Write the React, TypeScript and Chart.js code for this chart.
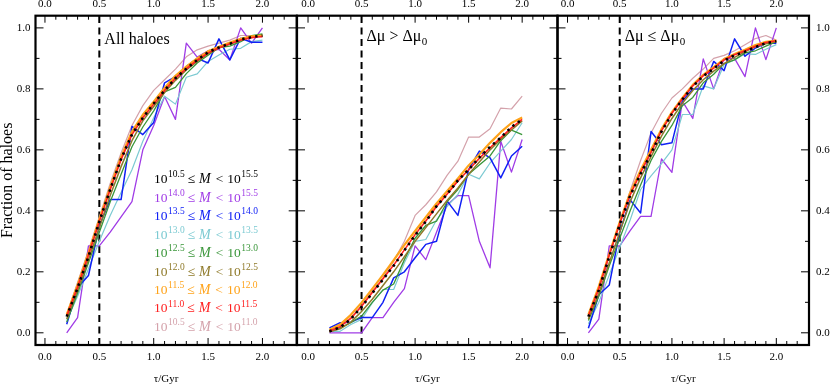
import React, { useEffect, useRef } from "react";
import { Chart, registerables } from "chart.js";

Chart.register(...registerables);

// ---------------- data ----------------
const TAU = [0.2, 0.3, 0.4, 0.5, 0.6, 0.7, 0.8, 0.9, 1.0, 1.1, 1.2, 1.3, 1.4, 1.5, 1.6, 1.7, 1.8, 1.9, 2.0];
const TAU_CUT = 0.5;

const X_MAJOR = [0, 0.5, 1.0, 1.5, 2.0];
const X_MINOR = [0.1, 0.2, 0.3, 0.4, 0.6, 0.7, 0.8, 0.9, 1.1, 1.2, 1.3, 1.4, 1.6, 1.7, 1.8, 1.9, 2.1, 2.2];
const Y_MAJOR = [0, 0.2, 0.4, 0.6, 0.8, 1.0];
const Y_MINOR = [0.1, 0.3, 0.5, 0.7, 0.9];

// mass bins (log10 M): lower and upper exponents, in legend order
const MASS_LO = ["10.5", "14.0", "13.5", "13.0", "12.5", "12.0", "11.5", "11.0", "10.5"];
const MASS_HI = ["15.5", "15.5", "14.0", "13.5", "13.0", "12.5", "12.0", "11.5", "11.0"];
const BIN_COLORS = ["#000000", "#a03ce6", "#1020f5", "#7ccad2", "#3a963a", "#8f7a2a", "#ffa31a", "#ff2020", "#d4a2ab"];

const PANEL_LABELS = ["All haloes", "Δμ > Δμ", "Δμ ≤ Δμ"];

// Panel 1: all haloes
const ALL_BLACK = [0.053, 0.147, 0.25, 0.365, 0.47, 0.57, 0.65, 0.705, 0.752, 0.795, 0.835, 0.866, 0.895, 0.92, 0.936, 0.948, 0.962, 0.97, 0.975];
const ALL_PURPLE = [0.0, 0.05, 0.285, 0.285, 0.33, 0.38, 0.43, 0.6, 0.68, 0.775, 0.7, 0.95, 0.904, 0.925, 0.93, 0.895, 1.0, 0.95, 1.0];
const ALL_BLUE = [0.028, 0.148, 0.188, 0.35, 0.437, 0.437, 0.677, 0.65, 0.69, 0.82, 0.84, 0.873, 0.9, 0.885, 0.964, 0.895, 0.966, 0.953, 0.953];
const ALL_CYAN = [0.04, 0.12, 0.21, 0.3, 0.385, 0.46, 0.535, 0.628, 0.705, 0.776, 0.75, 0.838, 0.849, 0.89, 0.911, 0.93, 0.933, 0.955, 0.96];
const ALL_GREEN = [0.035, 0.13, 0.23, 0.33, 0.43, 0.52, 0.61, 0.675, 0.728, 0.79, 0.805, 0.85, 0.885, 0.91, 0.935, 0.94, 0.955, 0.975, 0.98];
const ALL_OLIVE = [0.045, 0.14, 0.24, 0.345, 0.45, 0.545, 0.63, 0.695, 0.742, 0.788, 0.828, 0.862, 0.89, 0.915, 0.934, 0.946, 0.96, 0.97, 0.975];
const ALL_ORANGE = [0.06, 0.157, 0.262, 0.372, 0.477, 0.577, 0.66, 0.715, 0.758, 0.803, 0.843, 0.873, 0.9, 0.923, 0.938, 0.952, 0.964, 0.972, 0.975];
const ALL_RED = [0.055, 0.15, 0.255, 0.365, 0.47, 0.568, 0.65, 0.705, 0.75, 0.795, 0.835, 0.866, 0.894, 0.918, 0.935, 0.948, 0.96, 0.968, 0.972];
const ALL_PINK = [0.06, 0.165, 0.27, 0.38, 0.49, 0.59, 0.68, 0.745, 0.795, 0.83, 0.865, 0.905, 0.928, 0.94, 0.95, 0.96, 0.975, 0.975, 0.97];

// Panel 2: delta mu > delta mu_0
const GT_BLACK = [0.005, 0.018, 0.045, 0.085, 0.13, 0.175, 0.22, 0.27, 0.32, 0.365, 0.415, 0.455, 0.5, 0.535, 0.575, 0.61, 0.64, 0.675, 0.7];
const GT_PURPLE = [0.0, 0.0, 0.0, 0.0, 0.05, 0.05, 0.1, 0.145, 0.285, 0.24, 0.33, 0.42, 0.45, 0.45, 0.3, 0.213, 0.628, 0.527, 0.634];
const GT_BLUE = [0.016, 0.033, 0.035, 0.05, 0.05, 0.1, 0.18, 0.2, 0.246, 0.29, 0.3, 0.432, 0.385, 0.535, 0.596, 0.574, 0.508, 0.58, 0.612];
const GT_CYAN = [0.005, 0.005, 0.027, 0.044, 0.098, 0.142, 0.142, 0.23, 0.3, 0.306, 0.37, 0.415, 0.454, 0.52, 0.505, 0.557, 0.596, 0.634, 0.689];
const GT_GREEN = [0.003, 0.016, 0.033, 0.055, 0.1, 0.14, 0.16, 0.24, 0.31, 0.352, 0.366, 0.43, 0.47, 0.52, 0.55, 0.58, 0.63, 0.665, 0.65];
const GT_OLIVE = [0.003, 0.013, 0.035, 0.07, 0.11, 0.155, 0.2, 0.25, 0.3, 0.345, 0.39, 0.435, 0.475, 0.52, 0.56, 0.6, 0.635, 0.665, 0.695];
const GT_ORANGE = [0.01, 0.027, 0.059, 0.099, 0.144, 0.19, 0.238, 0.288, 0.334, 0.379, 0.424, 0.465, 0.506, 0.549, 0.585, 0.623, 0.658, 0.688, 0.706];
const GT_RED = [0.006, 0.02, 0.047, 0.087, 0.132, 0.177, 0.222, 0.272, 0.322, 0.367, 0.414, 0.455, 0.498, 0.535, 0.572, 0.607, 0.64, 0.672, 0.7];
const GT_PINK = [0.005, 0.02, 0.05, 0.09, 0.135, 0.18, 0.235, 0.3, 0.385, 0.42, 0.462, 0.517, 0.563, 0.642, 0.642, 0.669, 0.737, 0.734, 0.776];

// Panel 3: delta mu <= delta mu_0
const LE_BLACK = [0.053, 0.14, 0.25, 0.355, 0.45, 0.522, 0.588, 0.66, 0.718, 0.765, 0.808, 0.842, 0.866, 0.893, 0.91, 0.922, 0.937, 0.95, 0.956];
const LE_PURPLE = [0.0, 0.045, 0.285, 0.285, 0.335, 0.382, 0.382, 0.57, 0.526, 0.76, 0.703, 0.898, 0.8, 0.9, 0.9, 0.84, 1.0, 0.896, 1.0];
const LE_BLUE = [0.015, 0.125, 0.157, 0.33, 0.436, 0.393, 0.66, 0.617, 0.623, 0.76, 0.8, 0.8, 0.89, 0.86, 0.964, 0.907, 0.934, 0.95, 0.95];
const LE_CYAN = [0.03, 0.1, 0.19, 0.28, 0.37, 0.47, 0.515, 0.555, 0.6, 0.716, 0.716, 0.81, 0.8, 0.88, 0.895, 0.915, 0.913, 0.93, 0.945];
const LE_GREEN = [0.04, 0.12, 0.22, 0.31, 0.4, 0.485, 0.565, 0.628, 0.68, 0.745, 0.772, 0.82, 0.848, 0.883, 0.895, 0.918, 0.925, 0.94, 0.955];
const LE_OLIVE = [0.045, 0.13, 0.23, 0.33, 0.43, 0.508, 0.578, 0.645, 0.703, 0.753, 0.795, 0.83, 0.858, 0.883, 0.903, 0.922, 0.938, 0.948, 0.955];
const LE_ORANGE = [0.06, 0.152, 0.259, 0.363, 0.459, 0.533, 0.6, 0.668, 0.724, 0.77, 0.813, 0.846, 0.871, 0.898, 0.914, 0.928, 0.944, 0.954, 0.958];
const LE_RED = [0.055, 0.145, 0.255, 0.358, 0.452, 0.525, 0.592, 0.662, 0.72, 0.767, 0.81, 0.843, 0.868, 0.895, 0.912, 0.925, 0.94, 0.952, 0.958];
const LE_PINK = [0.06, 0.15, 0.258, 0.362, 0.465, 0.565, 0.655, 0.72, 0.77, 0.8, 0.835, 0.865, 0.9, 0.91, 0.925, 0.945, 0.965, 0.975, 0.96];

// per-panel series, in mass-bin (legend) order
const PANEL_SERIES = [
  [ALL_BLACK, ALL_PURPLE, ALL_BLUE, ALL_CYAN, ALL_GREEN, ALL_OLIVE, ALL_ORANGE, ALL_RED, ALL_PINK],
  [GT_BLACK, GT_PURPLE, GT_BLUE, GT_CYAN, GT_GREEN, GT_OLIVE, GT_ORANGE, GT_RED, GT_PINK],
  [LE_BLACK, LE_PURPLE, LE_BLUE, LE_CYAN, LE_GREEN, LE_OLIVE, LE_ORANGE, LE_RED, LE_PINK],
];

// ---------------- styling / layout ----------------
const W = 830;
const H = 386;
const FONT = "'Liberation Serif', 'Times New Roman', serif";
const Y_MIN = -0.04;
const Y_MAX = 1.04;
const PLOT_TOP = 15.7;
const PLOT_BOTTOM = 345;

const PANELS = [
  { left: 35.5, right: 296.7, xmin: -0.087, xmax: 2.315, leftLabels: true, rightLabels: false, labelBase: 28.3 },
  { left: 297, right: 557.5, xmin: -0.103, xmax: 2.33, leftLabels: false, rightLabels: false, labelBase: 25.3 },
  { left: 557.5, right: 809, xmin: -0.096, xmax: 2.313, leftLabels: false, rightLabels: true, labelBase: 25.3 },
];

// draw order (first = on top) and widths per bin
const DRAW_ORDER = [0, 7, 6, 5, 4, 2, 3, 1, 8];
const BIN_WIDTHS = [2.6, 1.3, 1.5, 1.2, 1.3, 1.5, 2.2, 1.6, 1.2];

function fmt(v: number) {
  return Number(v).toFixed(1);
}

function makePanelPlugin(p: number) {
  return {
    id: "panelDecor" + p,
    afterDatasetsDraw(chart: any) {
      const ctx = chart.ctx as CanvasRenderingContext2D;
      const { left, right, top, bottom } = chart.chartArea;
      const xs = chart.scales.x;
      const ys = chart.scales.y;
      ctx.save();
      ctx.strokeStyle = "#000";
      ctx.lineWidth = 1;
      const xt = (v: number, len: number) => {
        const px = xs.getPixelForValue(v);
        if (px < left + 1.5 || px > right - 1.5) return;
        ctx.beginPath();
        ctx.moveTo(px, bottom);
        ctx.lineTo(px, bottom - len);
        ctx.moveTo(px, top);
        ctx.lineTo(px, top + len);
        ctx.stroke();
      };
      X_MAJOR.forEach((v) => xt(v, 7));
      X_MINOR.forEach((v) => xt(v, 4));
      const yt = (v: number, len: number) => {
        const py = ys.getPixelForValue(v);
        ctx.beginPath();
        ctx.moveTo(left, py);
        ctx.lineTo(left + len, py);
        ctx.moveTo(right, py);
        ctx.lineTo(right - len, py);
        ctx.stroke();
      };
      Y_MAJOR.forEach((v) => yt(v, 8));
      Y_MINOR.forEach((v) => yt(v, 4));
      ctx.lineWidth = 2.2;
      ctx.strokeRect(left, top, right - left, bottom - top);

      const lx = xs.getPixelForValue(TAU_CUT) + 5;
      const ly = top + PANELS[p].labelBase;
      ctx.fillStyle = "#000";
      ctx.textBaseline = "alphabetic";
      ctx.textAlign = "left";
      ctx.font = `16px ${FONT}`;
      ctx.fillText(PANEL_LABELS[p], lx, ly);
      if (p > 0) {
        const w = ctx.measureText(PANEL_LABELS[p]).width;
        ctx.font = `11px ${FONT}`;
        ctx.fillText("0", lx + w + 0.5, ly + 3.5);
      }

      if (p === 0) {
        const x0 = left + 118.5;
        for (let i = 0; i < MASS_LO.length; i++) {
          const base = top + 167.5 + 18.46 * i;
          ctx.fillStyle = BIN_COLORS[i];
          let x = x0;
          ctx.font = `13.5px ${FONT}`;
          ctx.fillText("10", x, base);
          x += ctx.measureText("10").width + 0.5;
          ctx.font = `9.5px ${FONT}`;
          ctx.fillText(MASS_LO[i], x, base - 5.8);
          x += ctx.measureText(MASS_LO[i]).width + 3;
          ctx.font = `13.5px ${FONT}`;
          ctx.fillText("≤", x, base);
          x += ctx.measureText("≤").width + 4;
          ctx.font = `italic 14px ${FONT}`;
          ctx.fillText("M", x, base);
          x += ctx.measureText("M").width + 5;
          ctx.font = `13.5px ${FONT}`;
          ctx.fillText("<", x, base);
          x += ctx.measureText("<").width + 4;
          ctx.fillText("10", x, base);
          x += ctx.measureText("10").width + 0.5;
          ctx.font = `9.5px ${FONT}`;
          ctx.fillText(MASS_HI[i], x, base - 5.8);
        }
      }
      ctx.restore();
    },
  };
}

function buildChart(canvas: HTMLCanvasElement, p: number) {
  const panel = PANELS[p];
  const series = PANEL_SERIES[p];
  const datasets: any[] = [];
  DRAW_ORDER.forEach((bin) => {
    datasets.push({
      label: `bin${bin}`,
      data: TAU.map((t, i) => ({ x: t, y: series[bin][i] })),
      borderColor: BIN_COLORS[bin],
      borderWidth: BIN_WIDTHS[bin],
      borderDash: bin === 0 ? [2.4, 4.2] : [],
      borderCapStyle: "butt",
      borderJoinStyle: "round",
      pointRadius: 0,
      tension: 0,
      fill: false,
    });
  });
  datasets.push({
    label: "cut",
    data: [
      { x: TAU_CUT, y: Y_MIN },
      { x: TAU_CUT, y: Y_MAX },
    ],
    borderColor: "#000",
    borderWidth: 2,
    borderDash: [7, 4.5],
    pointRadius: 0,
    fill: false,
  });

  const tickFont = { family: FONT, size: 11 };
  const xTickCfg = {
    font: tickFont,
    color: "#000",
    padding: 6,
    maxRotation: 0,
    autoSkip: false,
    callback: (v: any) => fmt(v),
  };
  const yTickCfg = {
    font: tickFont,
    color: "#000",
    padding: 5,
    autoSkip: false,
    callback: (v: any) => fmt(v),
  };
  const setX = (s: any) => {
    s.ticks = X_MAJOR.map((v) => ({ value: v }));
  };
  const setY = (s: any) => {
    s.ticks = Y_MAJOR.map((v) => ({ value: v }));
  };

  const padLeft = panel.leftLabels ? 0 : panel.left;
  const padRight = panel.rightLabels ? 0 : W - panel.right;

  return new Chart(canvas, {
    type: "line",
    data: { datasets },
    plugins: [makePanelPlugin(p)],
    options: {
      animation: false,
      responsive: false,
      devicePixelRatio: 1,
      events: [],
      layout: {
        autoPadding: false,
        padding: { left: padLeft, right: padRight, top: 0, bottom: 0 },
      },
      plugins: { legend: { display: false }, tooltip: { enabled: false }, title: { display: false } },
      scales: {
        x: {
          type: "linear",
          position: "bottom",
          min: panel.xmin,
          max: panel.xmax,
          afterBuildTicks: setX,
          afterFit: (s: any) => {
            s.height = H - PLOT_BOTTOM;
          },
          grid: { display: false, drawTicks: false },
          border: { display: false },
          ticks: xTickCfg,
          title: {
            display: true,
            text: "τ/Gyr",
            color: "#000",
            font: { family: FONT, size: 11, lineHeight: 1.2 },
            padding: { top: 0, bottom: 0 },
          },
        },
        x2: {
          axis: "x",
          type: "linear",
          position: "top",
          min: panel.xmin,
          max: panel.xmax,
          afterBuildTicks: setX,
          afterFit: (s: any) => {
            s.height = PLOT_TOP;
          },
          grid: { display: false, drawTicks: false },
          border: { display: false },
          ticks: { ...xTickCfg, padding: 5 },
        },
        y: {
          type: "linear",
          position: "left",
          min: Y_MIN,
          max: Y_MAX,
          display: panel.leftLabels,
          afterBuildTicks: setY,
          afterFit: (s: any) => {
            s.width = panel.leftLabels ? panel.left : 0;
          },
          grid: { display: false, drawTicks: false },
          border: { display: false },
          ticks: yTickCfg,
          title: {
            display: true,
            text: "Fraction of haloes",
            color: "#000",
            font: { family: FONT, size: 16, lineHeight: 1 },
            padding: { top: 0, bottom: 0 },
          },
        },
        y2: {
          axis: "y",
          type: "linear",
          position: "right",
          min: Y_MIN,
          max: Y_MAX,
          display: panel.rightLabels,
          afterBuildTicks: setY,
          afterFit: (s: any) => {
            s.width = panel.rightLabels ? W - panel.right : 0;
          },
          grid: { display: false, drawTicks: false },
          border: { display: false },
          ticks: { ...yTickCfg, padding: 7 },
        },
      },
    } as any,
  });
}

function Panel({ index }: { index: number }) {
  const ref = useRef<HTMLCanvasElement | null>(null);
  useEffect(() => {
    if (!ref.current) return;
    const chart = buildChart(ref.current, index);
    return () => chart.destroy();
  }, [index]);
  return (
    <canvas
      ref={ref}
      width={W}
      height={H}
      style={{ position: "absolute", left: 0, top: 0, width: W, height: H }}
    />
  );
}

export default function App() {
  return (
    <div
      style={{
        position: "fixed",
        left: 0,
        top: 0,
        width: W,
        height: H,
        background: "#fff",
        overflow: "hidden",
      }}
    >
      <Panel index={0} />
      <Panel index={1} />
      <Panel index={2} />
    </div>
  );
}
